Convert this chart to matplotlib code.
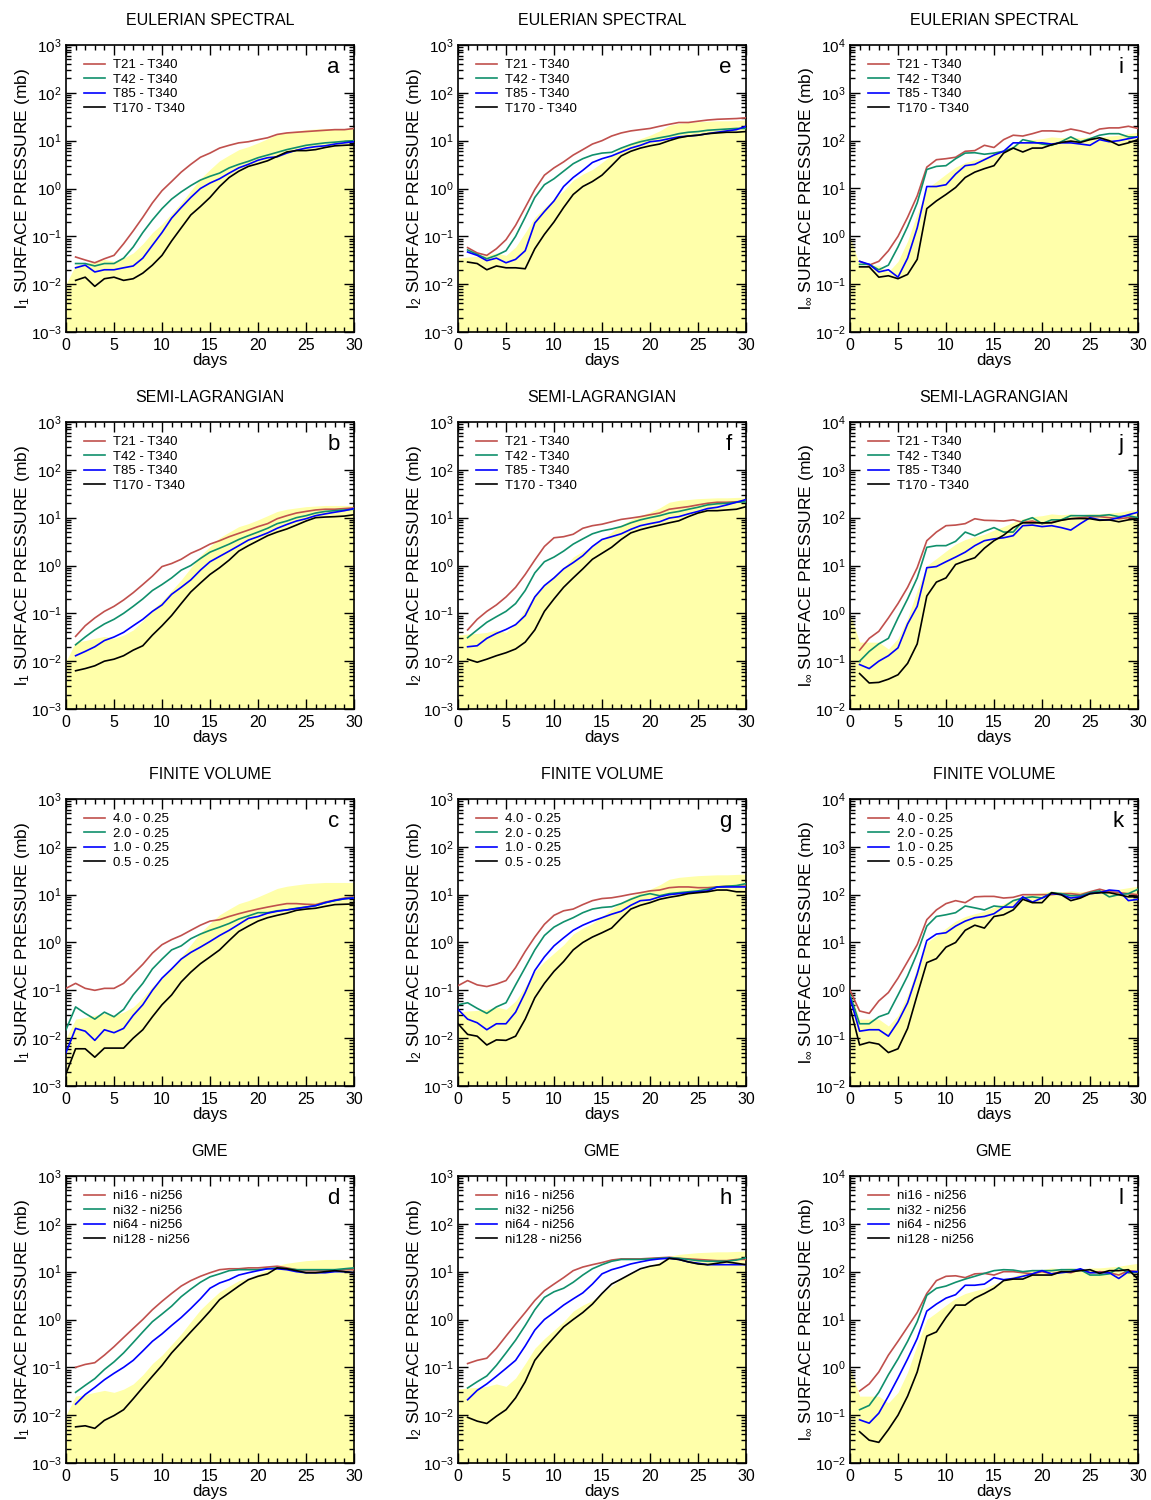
import numpy as np
import matplotlib
matplotlib.use("Agg")
import matplotlib.pyplot as plt
from matplotlib.ticker import MultipleLocator, FixedLocator, NullFormatter, FuncFormatter

plt.rcParams['font.family'] = ['Liberation Sans', 'DejaVu Sans']
plt.rcParams['mathtext.fontset'] = 'custom'
plt.rcParams['mathtext.rm'] = 'Liberation Sans'

days1 = list(range(1, 31))
days0 = list(range(0, 31))

# ---- Eulerian spectral ----
a_t21 = [0.037, 0.032, 0.028, 0.034, 0.04, 0.07, 0.13, 0.25, 0.5, 0.9, 1.4, 2.2, 3.2, 4.5, 5.5, 7, 8, 9, 9.5, 10.5, 11.5, 13.5, 14.5, 15, 15.5, 16, 16.5, 17, 17, 18]
a_t42 = [0.027, 0.027, 0.024, 0.027, 0.027, 0.035, 0.06, 0.12, 0.22, 0.38, 0.6, 0.85, 1.15, 1.5, 1.8, 2.1, 2.7, 3.2, 3.7, 4.4, 5, 5.7, 6.5, 7.2, 8, 8.5, 9, 9.3, 9.7, 10]
a_t85 = [0.022, 0.025, 0.018, 0.02, 0.02, 0.022, 0.024, 0.035, 0.065, 0.12, 0.24, 0.4, 0.65, 1.0, 1.3, 1.6, 2.1, 2.7, 3.2, 3.9, 4.4, 4.6, 5.5, 6.3, 7, 7.5, 7.8, 8.5, 9, 9.5]
a_t170 = [0.012, 0.014, 0.009, 0.013, 0.014, 0.012, 0.013, 0.017, 0.025, 0.04, 0.08, 0.15, 0.28, 0.42, 0.65, 1.1, 1.7, 2.3, 2.9, 3.3, 3.8, 4.7, 5.8, 6.2, 6.2, 6.5, 7.2, 7.8, 8, 8.2]

e_t21 = [0.058, 0.045, 0.04, 0.055, 0.085, 0.17, 0.4, 0.95, 1.9, 2.7, 3.6, 5, 6.5, 8.5, 10, 12.5, 14.5, 16, 17, 18, 20, 22, 24, 24, 25.5, 27, 28, 28.5, 29, 30]
e_t42 = [0.052, 0.042, 0.034, 0.04, 0.05, 0.1, 0.25, 0.65, 1.2, 1.6, 2.3, 3.3, 4.2, 5, 5.5, 5.7, 7, 8.3, 9.5, 10.5, 11.5, 12.5, 14, 15, 15.5, 16.5, 17, 17.5, 18, 18]
e_t85 = [0.047, 0.04, 0.031, 0.035, 0.028, 0.033, 0.05, 0.19, 0.33, 0.55, 1.1, 1.7, 2.4, 3.5, 4.2, 4.8, 5.8, 7, 8, 9.5, 10, 11, 12, 12.5, 13, 14, 15, 16, 17, 20]
e_t170 = [0.029, 0.027, 0.02, 0.024, 0.022, 0.022, 0.021, 0.055, 0.11, 0.2, 0.4, 0.75, 1.1, 1.4, 1.9, 3, 4.8, 6, 7, 7.8, 8.5, 10, 11.5, 12.5, 13, 14, 14.5, 15, 15, 15.5]

i_t21 = [0.3, 0.25, 0.3, 0.5, 1.0, 2.5, 7, 28, 40, 42, 45, 60, 62, 80, 72, 105, 130, 125, 140, 160, 160, 155, 175, 160, 140, 175, 185, 185, 200, 180]
i_t42 = [0.26, 0.26, 0.2, 0.25, 0.6, 1.6, 5, 25, 29, 30, 42, 55, 56, 52, 55, 60, 70, 105, 95, 85, 80, 95, 120, 95, 110, 130, 140, 140, 120, 120]
i_t85 = [0.3, 0.26, 0.18, 0.2, 0.14, 0.35, 1.5, 11, 11, 12, 20, 30, 32, 40, 50, 60, 90, 90, 90, 90, 85, 90, 90, 85, 80, 105, 95, 100, 110, 120]
i_t170 = [0.23, 0.23, 0.14, 0.15, 0.13, 0.16, 0.33, 3.8, 5.5, 7.5, 10.5, 17, 22, 26, 30, 55, 70, 58, 70, 70, 82, 92, 98, 92, 105, 115, 100, 80, 90, 105]

# ---- Semi-Lagrangian ----
b_t21 = [0.033, 0.055, 0.08, 0.11, 0.14, 0.19, 0.27, 0.4, 0.6, 0.95, 1.1, 1.35, 1.8, 2.2, 2.8, 3.3, 4, 4.7, 5.5, 6.5, 7.5, 9.5, 11, 12.5, 13.5, 14.5, 15, 15, 15.5, 16]
b_t42 = [0.022, 0.032, 0.045, 0.06, 0.075, 0.1, 0.14, 0.2, 0.3, 0.4, 0.55, 0.8, 1.0, 1.4, 1.9, 2.3, 2.8, 3.5, 4.2, 5, 6, 7.5, 8.5, 10, 11, 12.5, 13.5, 14, 14.5, 15]
b_t85 = [0.013, 0.016, 0.02, 0.027, 0.032, 0.04, 0.055, 0.075, 0.11, 0.15, 0.25, 0.35, 0.5, 0.8, 1.2, 1.55, 2, 2.6, 3.4, 4, 4.8, 6, 7.2, 8.5, 9.5, 11, 12, 13, 14, 15.5]
b_t170 = [0.0063, 0.007, 0.008, 0.01, 0.011, 0.013, 0.017, 0.021, 0.035, 0.055, 0.09, 0.16, 0.28, 0.43, 0.65, 0.9, 1.3, 2, 2.6, 3.3, 4.2, 5, 5.8, 7, 8.5, 10, 10.3, 10.5, 10.8, 11.5]

f_t21 = [0.045, 0.075, 0.11, 0.15, 0.22, 0.35, 0.65, 1.3, 2.5, 3.8, 4, 4.5, 6, 6.8, 7.3, 8.2, 9.2, 9.8, 10.5, 11.5, 12.5, 15, 16, 17, 18.5, 20, 21, 21, 21.5, 22]
f_t42 = [0.031, 0.045, 0.065, 0.085, 0.11, 0.16, 0.3, 0.7, 1.2, 1.5, 2, 2.8, 3.6, 4.6, 5.3, 5.8, 6.5, 7.8, 9, 10, 11, 12.5, 13.5, 15, 16.5, 18.5, 19.5, 20, 21, 21.5]
f_t85 = [0.02, 0.021, 0.03, 0.038, 0.046, 0.058, 0.09, 0.22, 0.38, 0.55, 0.85, 1.15, 1.6, 2.5, 3.5, 4, 4.6, 5.7, 6.8, 7.5, 8.2, 9.8, 10.5, 12, 13.5, 15.5, 16.5, 18.5, 21, 24]
f_t170 = [0.011, 0.0095, 0.011, 0.013, 0.015, 0.018, 0.025, 0.045, 0.11, 0.2, 0.35, 0.55, 0.85, 1.35, 1.8, 2.4, 3.5, 4.8, 5.6, 6.3, 7, 7.8, 8.6, 10.5, 12.5, 14, 14, 14.5, 15, 17]

j_t21 = [0.17, 0.3, 0.42, 0.8, 1.6, 3.5, 9, 33, 50, 68, 70, 75, 95, 88, 87, 85, 90, 80, 85, 75, 80, 90, 95, 100, 105, 105, 100, 95, 100, 100]
j_t42 = [0.1, 0.16, 0.23, 0.3, 0.8, 2, 5.5, 24, 26, 26, 32, 50, 42, 52, 62, 50, 50, 85, 100, 75, 90, 90, 110, 110, 110, 110, 115, 105, 110, 100]
j_t85 = [0.085, 0.07, 0.1, 0.13, 0.19, 0.6, 1.4, 9, 9.5, 12, 15, 19, 26, 33, 36, 38, 42, 68, 70, 65, 68, 62, 55, 75, 100, 90, 90, 100, 115, 130]
j_t170 = [0.055, 0.035, 0.036, 0.042, 0.052, 0.09, 0.23, 2.3, 4.5, 5.5, 10.5, 12.5, 14.5, 23, 33, 43, 62, 78, 78, 78, 78, 88, 95, 96, 95, 88, 90, 82, 90, 95]

# ---- Finite volume (starts at day 0) ----
c_40 = [0.11, 0.14, 0.11, 0.1, 0.11, 0.11, 0.14, 0.22, 0.35, 0.6, 0.9, 1.15, 1.4, 1.8, 2.3, 2.8, 3, 3.5, 4, 4.5, 5, 5.5, 6, 6.5, 6.5, 6.3, 6.2, 7, 7.7, 8.5, 9]
c_20 = [0.015, 0.045, 0.033, 0.025, 0.035, 0.028, 0.04, 0.08, 0.14, 0.28, 0.45, 0.7, 0.85, 1.2, 1.5, 1.8, 2.1, 2.5, 3.1, 3.6, 4.2, 4.2, 4.6, 4.8, 5.2, 5.5, 5.9, 6.8, 7.5, 8.2, 8.7]
c_10 = [0.005, 0.016, 0.014, 0.009, 0.015, 0.013, 0.016, 0.03, 0.05, 0.1, 0.18, 0.28, 0.45, 0.62, 0.8, 1.05, 1.4, 1.8, 2.4, 3.2, 3.5, 4.1, 4.5, 4.8, 5.1, 5.5, 5.9, 6.8, 7.6, 8.2, 8.5]
c_05 = [0.0018, 0.006, 0.006, 0.004, 0.0062, 0.0062, 0.0062, 0.01, 0.015, 0.028, 0.05, 0.08, 0.15, 0.24, 0.36, 0.5, 0.7, 1.1, 1.7, 2.2, 2.8, 3.3, 3.7, 4.1, 4.7, 5, 5.2, 5.7, 6.2, 6.3, 6.4]

g_40 = [0.125, 0.16, 0.13, 0.12, 0.135, 0.16, 0.3, 0.65, 1.3, 2.4, 3.7, 4.6, 5, 6.2, 7.5, 8.3, 8.6, 9.3, 10.2, 11, 12, 12.5, 14, 14.5, 14.5, 14, 14, 14.5, 15, 15, 15]
g_20 = [0.05, 0.055, 0.042, 0.033, 0.045, 0.055, 0.13, 0.3, 0.7, 1.4, 2.1, 2.7, 3.3, 4.2, 5, 5.4, 5.6, 6.5, 8, 9.5, 10.5, 9.5, 10.5, 11, 11.5, 12, 13, 14.5, 15, 15.5, 17]
g_10 = [0.04, 0.025, 0.021, 0.015, 0.02, 0.02, 0.035, 0.09, 0.26, 0.5, 0.85, 1.25, 1.8, 2.3, 2.8, 3.3, 3.9, 4.5, 6, 7.5, 7.8, 9, 10, 10.5, 11, 11.5, 12, 14.5, 14.5, 14.5, 14.5]
g_05 = [0.02, 0.012, 0.011, 0.0072, 0.0092, 0.009, 0.011, 0.025, 0.07, 0.14, 0.25, 0.4, 0.7, 1.0, 1.3, 1.6, 2, 3.2, 5, 6, 6.8, 8, 8.8, 9.5, 10.5, 11, 11.5, 12.5, 12.5, 11.5, 11.5]

k_40 = [1.0, 0.37, 0.33, 0.6, 0.9, 1.8, 4, 9, 30, 48, 65, 75, 68, 90, 92, 92, 85, 88, 100, 100, 100, 100, 105, 105, 100, 115, 130, 115, 110, 105, 100]
k_20 = [0.8, 0.2, 0.2, 0.28, 0.33, 0.8, 2, 6, 22, 35, 38, 42, 58, 53, 48, 58, 55, 75, 85, 90, 85, 110, 105, 95, 95, 110, 120, 90, 100, 105, 130]
k_10 = [0.7, 0.14, 0.15, 0.15, 0.11, 0.22, 0.55, 2.2, 11, 15, 16, 22, 28, 33, 35, 40, 55, 55, 90, 70, 85, 105, 100, 85, 90, 105, 110, 125, 120, 75, 80]
k_05 = [0.45, 0.072, 0.082, 0.075, 0.05, 0.06, 0.16, 0.8, 3.8, 4.6, 8, 10, 18, 23, 20, 35, 38, 48, 80, 68, 68, 110, 100, 75, 85, 105, 110, 110, 100, 90, 90]

# ---- GME ----
d_ni16 = [0.1, 0.115, 0.125, 0.18, 0.27, 0.42, 0.65, 1.0, 1.6, 2.4, 3.5, 5, 6.5, 8, 9.5, 11, 11.5, 11.5, 12, 12, 12.5, 13, 12, 11, 10.5, 10.5, 10.5, 10.5, 11, 11]
d_ni32 = [0.03, 0.042, 0.058, 0.09, 0.13, 0.2, 0.33, 0.55, 0.9, 1.3, 1.9, 3, 4.3, 6, 7.8, 9, 10.5, 11, 11, 11, 11.5, 12, 11.5, 11, 11, 11, 11, 11, 11.5, 12]
d_ni64 = [0.017, 0.027, 0.038, 0.055, 0.075, 0.1, 0.14, 0.22, 0.35, 0.5, 0.75, 1.1, 1.7, 2.7, 4.5, 5.8, 6.8, 8.5, 9.5, 10.5, 11.5, 11.5, 11, 10, 9.5, 9.5, 9.5, 10, 10, 9.5]
d_ni128 = [0.0057, 0.006, 0.0053, 0.0078, 0.0098, 0.013, 0.022, 0.038, 0.065, 0.11, 0.2, 0.33, 0.55, 0.9, 1.5, 2.6, 3.6, 5, 6.8, 8, 9, 12, 11.5, 10.5, 9.5, 9.5, 10, 10.5, 10, 9.5]

h_ni16 = [0.12, 0.14, 0.155, 0.25, 0.45, 0.8, 1.4, 2.5, 4, 5.5, 7.5, 10.5, 12.5, 14, 15.5, 17.5, 18.5, 18.5, 18.5, 19, 19.5, 20, 19, 18.5, 18, 17.5, 17, 17, 18, 18]
h_ni32 = [0.037, 0.05, 0.066, 0.11, 0.2, 0.37, 0.75, 1.6, 2.9, 3.8, 4.5, 6, 8.5, 11.5, 14, 16.5, 18, 18, 18, 18.5, 19, 19.5, 19, 18, 17, 16.5, 16.5, 16.5, 17.5, 19.5]
h_ni64 = [0.021, 0.033, 0.045, 0.065, 0.095, 0.14, 0.28, 0.6, 1.0, 1.4, 2, 2.7, 3.6, 5.5, 9, 11, 12.5, 14.5, 16, 17.5, 18.5, 19, 18, 16, 15, 14, 14, 14, 14, 14]
h_ni128 = [0.009, 0.0075, 0.0067, 0.0095, 0.013, 0.023, 0.05, 0.14, 0.25, 0.42, 0.7, 1.0, 1.4, 2.1, 3.5, 5.5, 7, 9, 11.5, 13, 14, 19, 18, 16, 14.5, 14, 15, 16, 15, 14]

l_ni16 = [0.32, 0.45, 0.8, 1.8, 3.5, 7, 14, 35, 65, 80, 82, 75, 90, 92, 85, 100, 100, 95, 90, 100, 90, 100, 95, 110, 95, 100, 95, 85, 105, 100]
l_ni32 = [0.13, 0.16, 0.3, 0.7, 1.5, 3.5, 9, 32, 45, 50, 60, 70, 80, 92, 105, 110, 108, 100, 105, 105, 105, 110, 110, 110, 85, 85, 90, 120, 95, 100]
l_ni64 = [0.08, 0.068, 0.11, 0.25, 0.6, 1.5, 4, 15, 21, 28, 33, 52, 52, 55, 75, 68, 72, 80, 90, 105, 90, 95, 100, 115, 95, 95, 95, 72, 100, 100]
l_ni128 = [0.045, 0.03, 0.027, 0.05, 0.1, 0.25, 0.8, 4.5, 5.5, 11, 20, 20, 28, 35, 45, 65, 70, 70, 85, 85, 85, 100, 100, 105, 110, 92, 105, 105, 110, 70]

# ---- yellow band (one per norm column) ----
shade_l1 = [0.01, 0.025, 0.027, 0.03, 0.033, 0.03, 0.035, 0.045, 0.07, 0.12, 0.18, 0.3, 0.5, 0.9, 1.6, 2.5, 3.8, 5, 6.5, 7.5, 9, 11, 13.5, 15, 16, 17, 17.5, 18, 18, 18, 18]
shade_l2 = [0.035, 0.037, 0.038, 0.04, 0.045, 0.04, 0.06, 0.12, 0.25, 0.4, 0.6, 0.9, 1.5, 2, 2.5, 3.5, 5, 7, 9, 11, 13, 16, 21, 23, 24, 25, 25.5, 26, 26, 26.5, 27]
shade_linf = [1.0, 0.25, 0.25, 0.25, 0.18, 0.3, 0.8, 3, 10, 14, 20, 28, 35, 40, 45, 55, 65, 80, 95, 105, 110, 120, 115, 120, 115, 120, 120, 125, 130, 140, 150]

spectral_labels = ['T21 - T340', 'T42 - T340', 'T85 - T340', 'T170 - T340']
fv_labels = ['4.0 - 0.25', '2.0 - 0.25', '1.0 - 0.25', '0.5 - 0.25']
gme_labels = ['ni16 - ni256', 'ni32 - ni256', 'ni64 - ni256', 'ni128 - ni256']
row_titles = ['EULERIAN SPECTRAL', 'SEMI-LAGRANGIAN', 'FINITE VOLUME', 'GME']
row_labels = [spectral_labels, spectral_labels, fv_labels, gme_labels]
row_days = [days1, days1, days0, days1]
norm_names = ['1', '2', r'\infty']
shades = [shade_l1, shade_l2, shade_linf]
ydecades = [(-3, 3), (-3, 3), (-2, 4)]
letters = [['a', 'e', 'i'], ['b', 'f', 'j'], ['c', 'g', 'k'], ['d', 'h', 'l']]

panels = {
    'a': [a_t21, a_t42, a_t85, a_t170], 'e': [e_t21, e_t42, e_t85, e_t170], 'i': [i_t21, i_t42, i_t85, i_t170],
    'b': [b_t21, b_t42, b_t85, b_t170], 'f': [f_t21, f_t42, f_t85, f_t170], 'j': [j_t21, j_t42, j_t85, j_t170],
    'c': [c_40, c_20, c_10, c_05], 'g': [g_40, g_20, g_10, g_05], 'k': [k_40, k_20, k_10, k_05],
    'd': [d_ni16, d_ni32, d_ni64, d_ni128], 'h': [h_ni16, h_ni32, h_ni64, h_ni128], 'l': [l_ni16, l_ni32, l_ni64, l_ni128],
}

colors = ['#c0504d', '#10906c', '#0000ff', '#000000']
yellow = '#ffffaa'

W, H = 1151, 1500
fig = plt.figure(figsize=(W / 100, H / 100), dpi=100)

col_left = [66, 458, 850]
row_top = [45, 422, 799, 1176]
aw, ah = 288, 287

logfmt = FuncFormatter(lambda v, p: r'$\mathregular{10^{%d}}$' % int(round(np.log10(v))))

for r in range(4):
    for c in range(3):
        ax = fig.add_axes([col_left[c] / W, 1 - (row_top[r] + ah) / H, aw / W, ah / H])
        ax.set_yscale('log')
        d0, d1 = ydecades[c]
        lo, hi = 10.0 ** d0, 10.0 ** d1
        ax.fill_between(days0, lo, shades[c], color=yellow, lw=0, zorder=1)
        for s, col, lab in zip(panels[letters[r][c]], colors, row_labels[r]):
            ax.plot(row_days[r], s, color=col, lw=1.2, label=lab, zorder=3)
        ax.set_xlim(0, 30)
        ax.set_ylim(lo, hi)
        ax.xaxis.set_major_locator(MultipleLocator(5))
        ax.xaxis.set_minor_locator(MultipleLocator(1))
        majors = [10.0 ** k for k in range(d0, d1 + 1)]
        minors = [m * 10.0 ** k for k in range(d0, d1) for m in range(2, 10)]
        ax.yaxis.set_major_locator(FixedLocator(majors))
        ax.yaxis.set_minor_locator(FixedLocator(minors))
        ax.yaxis.set_minor_formatter(NullFormatter())
        ax.yaxis.set_major_formatter(logfmt)
        ax.tick_params(which='both', direction='in', top=True, right=True, width=1)
        ax.tick_params(which='major', length=7)
        ax.tick_params(which='minor', length=3.5)
        ax.tick_params(axis='x', labelsize=11.5, pad=4.5)
        ax.tick_params(axis='y', labelsize=11, pad=3)
        for sp in ax.spines.values():
            sp.set_linewidth(1.2)
        ax.set_title(row_titles[r], fontsize=11.5, pad=14.5)
        ax.set_xlabel('days', fontsize=12, labelpad=0)
        ax.set_ylabel(r'$\mathregular{l_{%s}}$ SURFACE PRESSURE (mb)' % norm_names[c], fontsize=12.5, labelpad=-0.5)
        ax.text(0.95, 0.923, letters[r][c], transform=ax.transAxes, fontsize=16, ha='right', va='center')
        ax.legend(loc='upper left', bbox_to_anchor=(0.064, 0.951), frameon=False, fontsize=9.5,
                  handlelength=1.55, handletextpad=0.6, labelspacing=0.17, borderaxespad=0, borderpad=0)

fig.savefig('out.png', dpi=100)
